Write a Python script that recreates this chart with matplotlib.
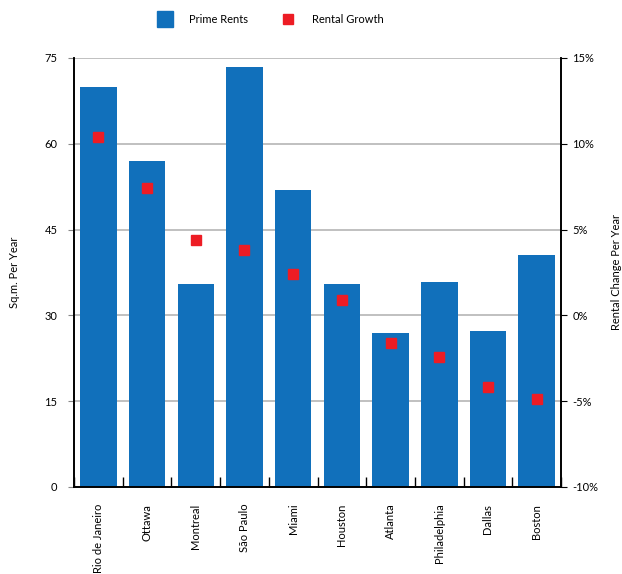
import matplotlib.pyplot as plt
import numpy as np
from matplotlib.lines import Line2D

cities = ["Rio de Janeiro", "Ottawa", "Montreal", "São Paulo", "Miami",
          "Houston", "Atlanta", "Philadelphia", "Dallas", "Boston"]
prime_rents = [70, 57, 35.5, 73.4, 51.9, 35.5, 26.9, 35.8, 27.3, 40.6]
rental_growth = [10.4, 7.4, 4.4, 3.8, 2.4, 0.9, -1.6, -2.4, -4.2, -4.9]

blue = "#1170bb"
red = "#ed1c24"

plt.rcParams['font.family'] = ['Lato', 'DejaVu Sans']
plt.rcParams['font.size'] = 8

fig = plt.figure(figsize=(6.22, 5.74), dpi=100)
ax = fig.add_axes([0.119, 0.1516, 0.783, 0.7474])
ax2 = ax.twinx()

x = np.arange(len(cities))
ax.bar(x, prime_rents, width=0.75, color=blue, zorder=2)
ax.set_xlim(-0.5, len(cities) - 0.5)
ax.set_ylim(0, 75)
ax.set_yticks([0, 15, 30, 45, 60, 75])
ax.grid(axis='y', color='#b5b5b5', linewidth=1.2, zorder=0)
ax.set_axisbelow(True)
ax.set_ylabel("Sq.m. Per Year")
ax.yaxis.set_label_coords(-0.111, 0.5)

ax.set_xticks(x)
ax.set_xticklabels(cities, rotation=90, va='top')
ax.tick_params(axis='x', which='major', length=0, pad=12)
ax.set_xticks(np.arange(-0.5, len(cities)), minor=True)
ax.tick_params(axis='x', which='minor', direction='in', length=7, color='black', width=1)
ax.tick_params(axis='y', length=4, color='#888888', pad=8)

ax2.plot(x, rental_growth, linestyle='none', marker='s', markersize=7,
         color=red, zorder=3)
ax2.set_ylim(-10, 15)
ax2.set_yticks([-10, -5, 0, 5, 10, 15])
ax2.set_yticklabels(["-10%", "-5%", "0%", "5%", "10%", "15%"])
ax2.tick_params(axis='y', length=4, color='black', pad=4)
ax2.set_ylabel("Rental Change Per Year")
ax2.yaxis.set_label_coords(1.103, 0.5)

for a in (ax, ax2):
    a.spines['top'].set_visible(False)
    for side in ('left', 'right', 'bottom'):
        a.spines[side].set_color('black')
        a.spines[side].set_linewidth(1.2)

handles = [Line2D([], [], linestyle='none', marker='s', markersize=11, color=blue),
           Line2D([], [], linestyle='none', marker='s', markersize=7, color=red)]
fig.legend(handles, ["Prime Rents", "Rental Growth"], loc='upper left',
           bbox_to_anchor=(0.252, 0.9756), ncol=2, frameon=False,
           handlelength=1.5, handletextpad=1.44, columnspacing=2.8,
           borderpad=0, borderaxespad=0, fontsize=8)

fig.savefig("out.png", dpi=100)
